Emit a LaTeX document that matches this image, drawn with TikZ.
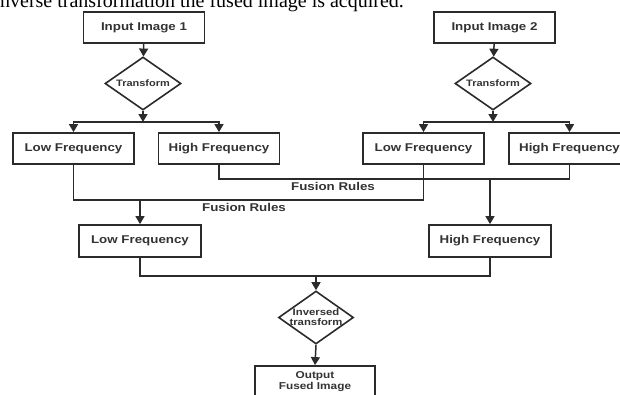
\documentclass[tikz,border=0pt]{standalone}
\usepackage{fontspec}
\usetikzlibrary{shapes.geometric,arrows.meta}
\newfontfamily\diabold{Liberation Sans}[UprightFont=* Bold, FakeStretch=1.18]
\newfontfamily\bodyserif{Liberation Serif}
\definecolor{ink}{HTML}{2B2B2B}
\definecolor{txt}{HTML}{333333}
\tikzset{
  box/.style={draw=ink, line width=1.8pt, rectangle, minimum width=121pt, minimum height=31pt,
              inner sep=0pt, text=txt, font=\diabold\fontsize{11.3}{13}\selectfont},
  decide/.style={draw=ink, line width=1.6pt, diamond, aspect=1.43, inner sep=0pt,
                 minimum width=76pt, minimum height=53pt, text=txt},
  wire/.style={draw=ink, line width=1.5pt},
  arr/.style={wire, -{Triangle[width=9pt,length=8pt]}},
  rulelabel/.style={text=txt, font=\diabold\fontsize{11.3}{13}\selectfont, inner sep=0pt}
}
\begin{document}
\begin{tikzpicture}[x=1pt,y=-1pt]
\clip (0,0) rectangle (620,394);
\fill[white] (0,0) rectangle (620,394);

% trailing line of running text above the figure
\node (caption) [anchor=base west, inner sep=0pt, font=\bodyserif\fontsize{20}{24}\selectfont]
  at (-5.6,7.5) {inverse transformation the fused image is acquired.};

% first source image
\node[box] (in1) at (144,27.5) {Input Image 1};
\node[decide] (tr1) at (143,83.5) {\makebox[0pt]{\diabold\fontsize{9.3}{11}\selectfont Transform}};
\node[box] (lf1) at (73.5,148.5) {Low Frequency};
\node[box] (hf1) at (219,148.5) {High Frequency};

% second source image
\node[box] (in2) at (494.5,27.5) {Input Image 2};
\node[decide] (tr2) at (493,83.5) {\makebox[0pt]{\diabold\fontsize{9.3}{11}\selectfont Transform}};
\node[box] (lf2) at (423.5,148.5) {Low Frequency};
\node[box] (hf2) at (569.5,148.5) {High Frequency};

% fused sub-bands
\node[box, minimum width=122pt, minimum height=32pt] (lfo) at (140,241) {Low Frequency};
\node[box, minimum width=122pt, minimum height=32pt] (hfo) at (490,241) {High Frequency};

% reconstruction
\node[decide, minimum width=75pt] (inv) at (316,317.5)
  {\makebox[0pt]{\diabold\fontsize{9.6}{11}\selectfont\shortstack{Inversed\\transform}}};
\node[box, minimum width=120pt, align=center, font=\diabold\fontsize{10}{11}\selectfont]
  (out) at (315,381.5) {Output\\Fused Image};

% split points below the transforms
\coordinate (s1) at (143,122);
\coordinate (s2) at (493,122);
\draw[arr] (in1) -- (tr1);
\draw[arr] (tr1.south) -- (s1);
\draw[arr] (s1) -| (lf1.north);
\draw[arr] (s1) -| (hf1.north);

\draw[arr] (in2) -- (tr2);
\draw[arr] (tr2.south) -- (s2);
\draw[arr] (s2) -| (lf2.north);
\draw[arr] (s2) -| (hf2.north);

% high-frequency fusion
\coordinate (hbus) at (hf1.south |- 0,179);
\coordinate (hjoin) at (hfo.north |- 0,179);
\draw[wire] (hf1.south) -- (hbus) -| (hf2.south);
\draw[arr] (hjoin) -- (hfo.north);
\node[rulelabel] (fr1) at (333,186) {Fusion Rules};

% low-frequency fusion
\coordinate (lbus) at (lf1.south |- 0,200);
\coordinate (ljoin) at (lfo.north |- 0,200);
\draw[wire] (lf1.south) -- (lbus) -| (lf2.south);
\draw[arr] (ljoin) -- (lfo.north);
\node[rulelabel] (fr2) at (244,207.5) {Fusion Rules};

% merge and inverse transform
\coordinate (mbus) at (lfo.south |- 0,276);
\coordinate (mjoin) at (inv.north |- 0,276);
\draw[wire] (lfo.south) -- (mbus) -| (hfo.south);
\draw[arr] (mjoin) -- (inv.north);
\draw[arr] (inv.south) -- (out.north);
\end{tikzpicture}
\end{document}
